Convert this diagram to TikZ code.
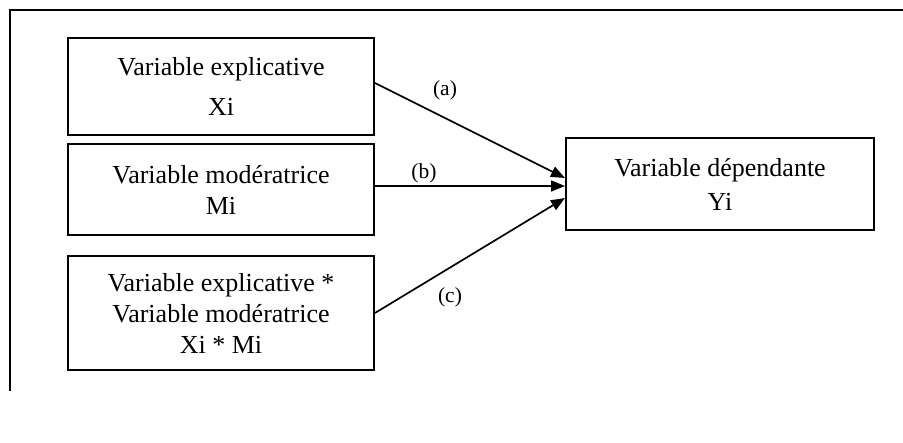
\documentclass[tikz,border=0pt]{standalone}
\usepackage{fontspec}
\setmainfont{Liberation Serif}
\usetikzlibrary{arrows.meta}

\tikzset{
  varbox/.style={draw, line width=2pt, rectangle, inner sep=0pt,
    minimum width=306pt, align=center,
    font=\fontsize{26}{31}\selectfont},
  link/.style={line width=1.7pt, -{Triangle[length=14pt,width=11pt]}},
  tag/.style={font=\fontsize{21.5}{24}\selectfont, inner sep=0pt},
  frameline/.style={line width=2pt}
}

\begin{document}
\begin{tikzpicture}[x=1pt, y=-1pt]
  \useasboundingbox (0,0) rectangle (903,443);

  % open frame around the model
  \coordinate (fr) at (903,10);
  \coordinate (fc) at (10,10);
  \coordinate (fb) at (10,391);
  \draw[frameline] (fr) -- (fc) -- (fb);

  % predictor boxes
  \node[varbox, minimum height=97pt] (A) at (221,86.5)
    {Variable explicative\\[9pt]Xi};
  \node[varbox, minimum height=91pt] (B) at (221,189.5)
    {Variable modératrice\\Mi};
  \node[varbox, minimum height=114pt] (C) at (221,313)
    {Variable explicative *\\Variable modératrice\\Xi * Mi};

  % outcome box
  \node[varbox, minimum width=308pt, minimum height=92pt] (D) at (720,184)
    {Variable dépendante\\[3pt]Yi};

  % effects
  \draw[link] ([yshift=3.5pt]A.east) -- ([yshift=6pt]D.west);
  \draw[link] ([yshift=3.5pt]B.east) -- ([yshift=-2pt]D.west);
  \draw[link] (C.east) -- ([yshift=-14pt]D.west);

  \node[tag] (la) at (445,90.5) {(a)};
  \node[tag] (lb) at (424,173.5) {(b)};
  \node[tag] (lc) at (450,297) {(c)};
\end{tikzpicture}
\end{document}
